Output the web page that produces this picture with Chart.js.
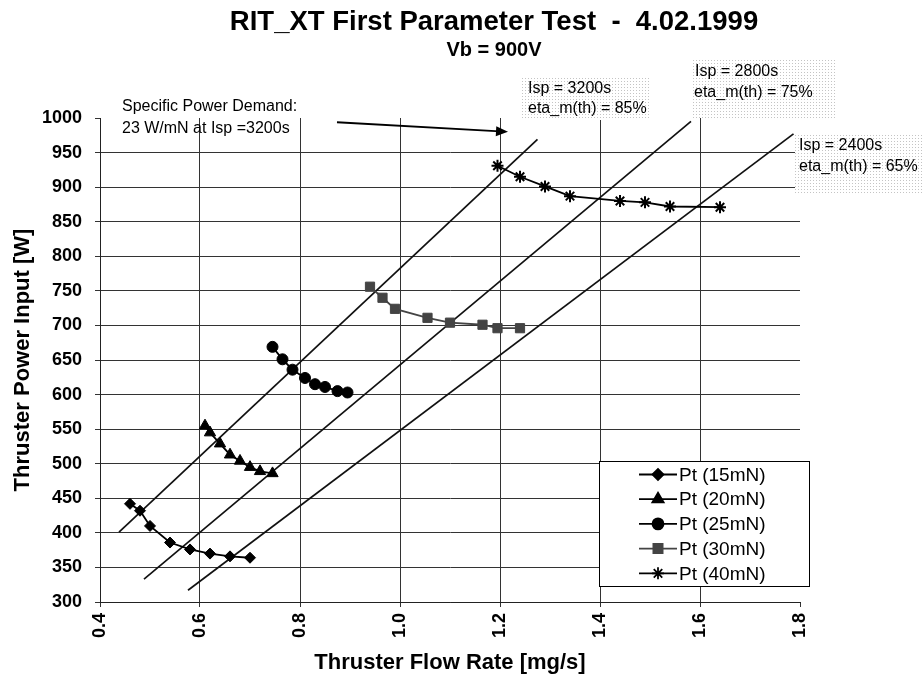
<!DOCTYPE html>
<html>
<head>
<meta charset="utf-8">
<script src="https://cdn.jsdelivr.net/npm/chart.js@4.4.1/dist/chart.umd.min.js"></script>
<style>
  html, body { margin: 0; padding: 0; background: #fff; }
  #wrap { width: 924px; height: 676px; }
</style>
</head>
<body>
<div id="wrap"><canvas id="rit" width="924" height="676"></canvas></div>
<script>
// measured points, flow [mg/s] / power [W]
const flow15 = [0.46, 0.48, 0.50, 0.54, 0.58, 0.62, 0.66, 0.70];
const power15 = [442, 432, 410, 386, 376, 370, 366, 364];
const flow20 = [0.61, 0.62, 0.64, 0.66, 0.68, 0.70, 0.72, 0.745];
const power20 = [555, 545, 529, 513, 504, 495, 489, 486];
const flow25 = [0.745, 0.765, 0.785, 0.81, 0.83, 0.85, 0.875, 0.895];
const power25 = [669, 651, 636, 624, 615, 611, 605, 603];
const flow30 = [0.94, 0.965, 0.99, 1.055, 1.10, 1.165, 1.195, 1.24];
const power30 = [756, 740, 724, 711, 704, 701, 696, 696];
const flow40 = [1.195, 1.24, 1.29, 1.34, 1.44, 1.49, 1.54, 1.64];
const power40 = [931, 915, 901, 887, 880, 878, 872, 871];

// reference lines (Isp / efficiency)
const isp3200Flow = [0.438, 1.275];
const isp3200Power = [401, 969];
const isp2800Flow = [0.488, 1.582];
const isp2800Power = [333, 995];
const isp2400Flow = [0.576, 1.787];
const isp2400Power = [317, 977];

// arrow for the specific power note, [flow, power]
const arrowStart = [0.874, 994];
const arrowEnd = [1.216, 980];

const xTicks = [0.4, 0.6, 0.8, 1.0, 1.2, 1.4, 1.6, 1.8];
const yTicks = [300, 350, 400, 450, 500, 550, 600, 650, 700, 750, 800, 850, 900, 950, 1000];

const FONT = "'Liberation Sans', Arial, sans-serif";

const pts = (xs, ys) => xs.map((x, i) => ({ x, y: ys[i] }));

function series(label, xs, ys, style, radius, color) {
    return {
        label,
        data: pts(xs, ys),
        showLine: true,
        inLegend: true,
        borderColor: color,
        backgroundColor: color,
        borderWidth: 1.8,
        pointStyle: style,
        pointRadius: radius,
        pointHoverRadius: radius,
        pointBorderWidth: style === 'star' ? 2 : 1,
        pointBackgroundColor: color,
        pointBorderColor: color,
        order: 1,
    };
}

function refLine(xs, ys) {
    return {
        label: '',
        data: pts(xs, ys),
        showLine: true,
        inLegend: false,
        borderColor: '#111',
        borderWidth: 1.7,
        pointRadius: 0,
        pointHoverRadius: 0,
        order: 2,
    };
}

function dotPattern(ctx) {
    const c = document.createElement('canvas');
    c.width = 3;
    c.height = 3;
    const g = c.getContext('2d');
    g.fillStyle = '#fff';
    g.fillRect(0, 0, 3, 3);
    g.fillStyle = '#c4c4c4';
    g.fillRect(0, 0, 1, 1);
    return ctx.createPattern(c, 'repeat');
}

const decorations = {
    id: 'decorations',
    beforeDraw(chart) {
        const { ctx, width, height } = chart;
        ctx.save();
        ctx.fillStyle = '#fff';
        ctx.fillRect(0, 0, width, height);
        ctx.restore();
    },
    afterDraw(chart) {
        const { ctx, chartArea, scales: { x, y } } = chart;
        ctx.save();

        // title
        ctx.fillStyle = '#000';
        ctx.textAlign = 'center';
        ctx.textBaseline = 'middle';
        ctx.font = `bold 27.5px ${FONT}`;
        ctx.fillText('RIT_XT First Parameter Test  -  4.02.1999', 494, 22);
        ctx.font = `bold 20px ${FONT}`;
        ctx.fillText('Vb = 900V', 494, 50);

        // note boxes
        const pat = dotPattern(ctx);
        ctx.fillStyle = pat;
        ctx.fillRect(520, 76, 130, 44);
        ctx.fillRect(692, 60, 145, 58);
        ctx.fillRect(795, 135, 129, 58);

        ctx.fillStyle = '#000';
        ctx.textAlign = 'left';
        ctx.font = `16px ${FONT}`;
        ctx.fillText('Specific Power Demand:', 122, 107);
        ctx.fillText('23 W/mN at Isp =3200s', 122, 129);
        ctx.fillText('Isp = 3200s', 528, 89);
        ctx.fillText('eta_m(th) = 85%', 528, 109);
        ctx.fillText('Isp = 2800s', 695, 72);
        ctx.fillText('eta_m(th) = 75%', 694, 93);
        ctx.fillText('Isp = 2400s', 799, 146);
        ctx.fillText('eta_m(th) = 65%', 799, 167);

        // arrow
        const ax0 = x.getPixelForValue(arrowStart[0]);
        const ay0 = y.getPixelForValue(arrowStart[1]);
        const ax1 = x.getPixelForValue(arrowEnd[0]);
        const ay1 = y.getPixelForValue(arrowEnd[1]);
        const ang = Math.atan2(ay1 - ay0, ax1 - ax0);
        ctx.strokeStyle = '#000';
        ctx.lineWidth = 2;
        ctx.beginPath();
        ctx.moveTo(ax0, ay0);
        ctx.lineTo(ax1 - 8 * Math.cos(ang), ay1 - 8 * Math.sin(ang));
        ctx.stroke();
        ctx.beginPath();
        ctx.moveTo(ax1, ay1);
        ctx.lineTo(ax1 - 12 * Math.cos(ang) + 5 * Math.sin(ang), ay1 - 12 * Math.sin(ang) - 5 * Math.cos(ang));
        ctx.lineTo(ax1 - 12 * Math.cos(ang) - 5 * Math.sin(ang), ay1 - 12 * Math.sin(ang) + 5 * Math.cos(ang));
        ctx.closePath();
        ctx.fillStyle = '#000';
        ctx.fill();

        // legend
        const items = chart.data.datasets.filter(d => d.inLegend);
        const bx = chartArea.right - 201;
        const by = chartArea.bottom - 141;
        ctx.fillStyle = '#fff';
        ctx.fillRect(bx, by, 210, 125);
        ctx.strokeStyle = '#000';
        ctx.lineWidth = 1;
        ctx.strokeRect(bx + 0.5, by + 0.5, 210, 125);
        ctx.font = `19px ${FONT}`;
        ctx.textAlign = 'left';
        ctx.textBaseline = 'middle';
        items.forEach((d, i) => {
            const cy = by + 13.5 + i * 24.7;
            ctx.strokeStyle = d.borderColor;
            ctx.lineWidth = d.borderWidth;
            ctx.beginPath();
            ctx.moveTo(bx + 40, cy);
            ctx.lineTo(bx + 78, cy);
            ctx.stroke();
            ctx.fillStyle = d.pointBackgroundColor;
            ctx.strokeStyle = d.pointBorderColor;
            Chart.helpers.drawPoint(ctx, {
                pointStyle: d.pointStyle,
                radius: d.pointRadius,
                borderWidth: d.pointBorderWidth,
                rotation: 0,
            }, bx + 59, cy);
            ctx.fillStyle = '#000';
            ctx.fillText(d.label, bx + 80, cy + 1);
        });

        ctx.restore();
    },
};

new Chart(document.getElementById('rit'), {
    type: 'scatter',
    data: {
        datasets: [
            series('Pt (15mN)', flow15, power15, 'rectRot', 5.5, '#000'),
            series('Pt (20mN)', flow20, power20, 'triangle', 6.5, '#000'),
            series('Pt (25mN)', flow25, power25, 'circle', 5.5, '#000'),
            series('Pt (30mN)', flow30, power30, 'rect', 6.5, '#444'),
            series('Pt (40mN)', flow40, power40, 'star', 6, '#000'),
            refLine(isp3200Flow, isp3200Power),
            refLine(isp2800Flow, isp2800Power),
            refLine(isp2400Flow, isp2400Power),
        ],
    },
    options: {
        responsive: false,
        animation: false,
        events: [],
        layout: { padding: { top: 118, right: 124, left: 0, bottom: 0 } },
        plugins: {
            legend: { display: false },
            title: { display: false },
            tooltip: { enabled: false },
        },
        scales: {
            x: {
                type: 'linear',
                min: xTicks[0],
                max: xTicks[xTicks.length - 1],
                afterBuildTicks: scale => { scale.ticks = xTicks.map(v => ({ value: v })); },
                afterFit: scale => { scale.height = 74; },
                ticks: {
                    minRotation: 90,
                    maxRotation: 90,
                    padding: 6,
                    color: '#000',
                    font: { family: FONT, size: 18, weight: 'bold' },
                    callback: v => Number(v).toFixed(1),
                },
                grid: {
                    color: c => (c.tick && Math.abs(c.tick.value - 1.8) < 1e-6) ? 'rgba(0,0,0,0)' : '#333',
                    tickColor: '#333',
                    tickLength: 5,
                    lineWidth: 1,
                },
                border: { color: '#222', width: 1 },
                title: {
                    display: true,
                    text: 'Thruster Flow Rate [mg/s]',
                    color: '#000',
                    font: { family: FONT, size: 22, weight: 'bold' },
                    padding: { top: 0, bottom: 0 },
                },
            },
            y: {
                type: 'linear',
                min: yTicks[0],
                max: yTicks[yTicks.length - 1],
                afterBuildTicks: scale => { scale.ticks = yTicks.map(v => ({ value: v })); },
                afterFit: scale => { scale.width = 100; },
                ticks: {
                    padding: 13,
                    color: '#000',
                    font: { family: FONT, size: 18, weight: 'bold' },
                    callback: v => String(v),
                },
                grid: {
                    color: c => (c.tick && c.tick.value === 1000) ? 'rgba(0,0,0,0)' : '#333',
                    tickColor: '#333',
                    tickLength: 5,
                    lineWidth: 1,
                },
                border: { color: '#222', width: 1 },
                title: {
                    display: true,
                    text: 'Thruster Power Input [W]',
                    color: '#000',
                    font: { family: FONT, size: 22, weight: 'bold' },
                    padding: { top: 10, bottom: 0 },
                },
            },
        },
    },
    plugins: [decorations],
});
</script>
</body>
</html>
